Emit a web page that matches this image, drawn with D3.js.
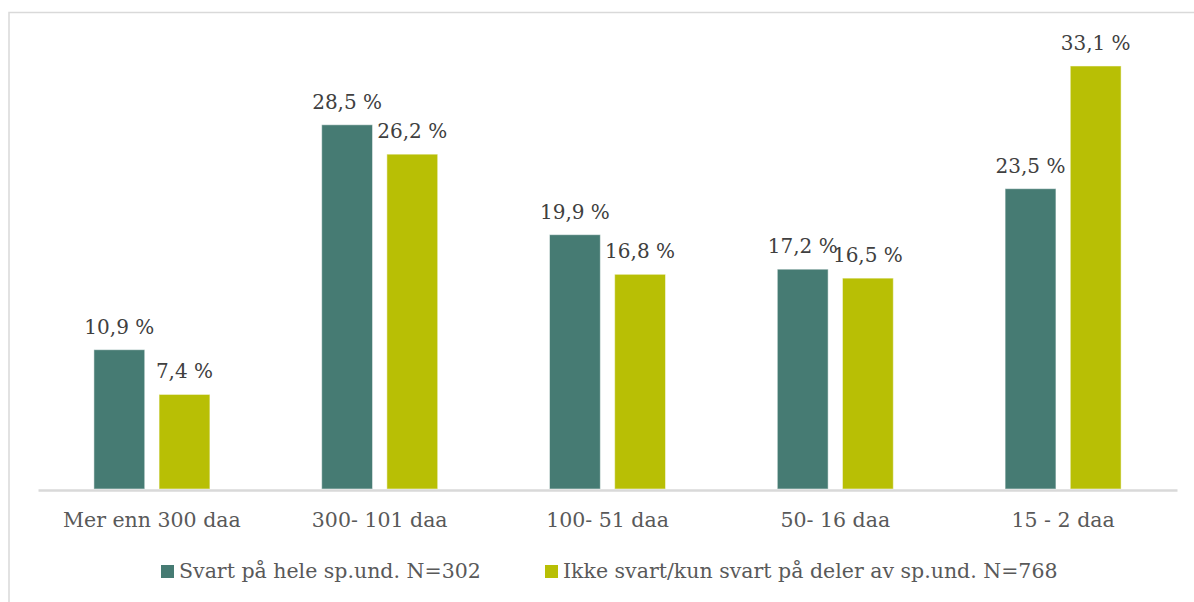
<!DOCTYPE html>
<html><head><meta charset="utf-8">
<script src="https://cdn.jsdelivr.net/npm/d3@7"></script>
<style>body{margin:0;background:#fff}svg{display:block}</style>
</head><body>
<svg id="c" width="1194" height="602"></svg>
<script>
const categories = ["Mer enn 300 daa", "300- 101 daa", "100- 51 daa", "50- 16 daa", "15 - 2 daa"];
const seriesNames = ["Svart på hele sp.und. N=302", "Ikke svart/kun svart på deler av sp.und. N=768"];
const seriesA = [10.9, 28.5, 19.9, 17.2, 23.5];
const seriesB = [7.4, 26.2, 16.8, 16.5, 33.1];
const colors = ["#467B73", "#B8BF05"];
const FONT = "DejaVu Serif";

const svg = d3.select("#c");
svg.append("rect").attr("x", 9).attr("y", 12.5).attr("width", 1200).attr("height", 600)
  .attr("fill", "none").attr("stroke", "#d9d9d9").attr("stroke-width", 1.5);

const x0 = d3.scaleBand().domain(categories).range([38, 1177]).paddingInner(0).paddingOuter(0);
const x1 = d3.scaleBand().domain([0, 1]).range([x0.bandwidth()/2 - 58, x0.bandwidth()/2 + 58]).paddingInner(0.22);
const y = d3.scaleLinear().domain([0, 35]).range([489, 489 - 35 * 12.78]);

const data = categories.map((c, i) => ({c, v: [seriesA[i], seriesB[i]]}));
const g = svg.append("g");
const grp = g.selectAll("g.cat").data(data).join("g").attr("transform", d => `translate(${x0(d.c)},0)`);
grp.selectAll("rect").data(d => d.v.map((v, k) => ({v, k}))).join("rect")
  .attr("x", d => x1(d.k)).attr("width", x1.bandwidth())
  .attr("y", d => y(d.v)).attr("height", d => y(0) - y(d.v))
  .attr("fill", d => colors[d.k]).attr("stroke", "#ffffff").attr("stroke-opacity", 0.5).attr("stroke-width", 1);
grp.selectAll("text").data(d => d.v.map((v, k) => ({v, k}))).join("text")
  .attr("x", d => x1(d.k) + x1.bandwidth()/2).attr("y", d => y(d.v) - 16)
  .attr("text-anchor", "middle").attr("font-family", FONT).attr("font-size", 20).attr("fill", "#404040")
  .text(d => d3.format(".1f")(d.v).replace(".", ",") + " %");

const ax = svg.append("g").attr("transform", "translate(0,490)")
  .call(d3.axisBottom(x0).tickSize(0).tickPadding(22.5));
ax.select(".domain").attr("stroke", "#d9d9d9").attr("stroke-width", 2.5);
ax.selectAll("text").attr("font-family", FONT).attr("font-size", 20.5).attr("fill", "#595959");

const leg = svg.append("g").attr("transform", "translate(161,565)");
const lx = [0, 384];
seriesNames.forEach((n, k) => {
  const it = leg.append("g").attr("transform", `translate(${lx[k]},0)`);
  it.append("rect").attr("width", 13).attr("height", 13).attr("fill", colors[k]);
  it.append("text").attr("x", 18).attr("y", 13).attr("font-family", FONT).attr("font-size", 20.5).attr("fill", "#595959").text(n);
});
</script>
</body></html>
